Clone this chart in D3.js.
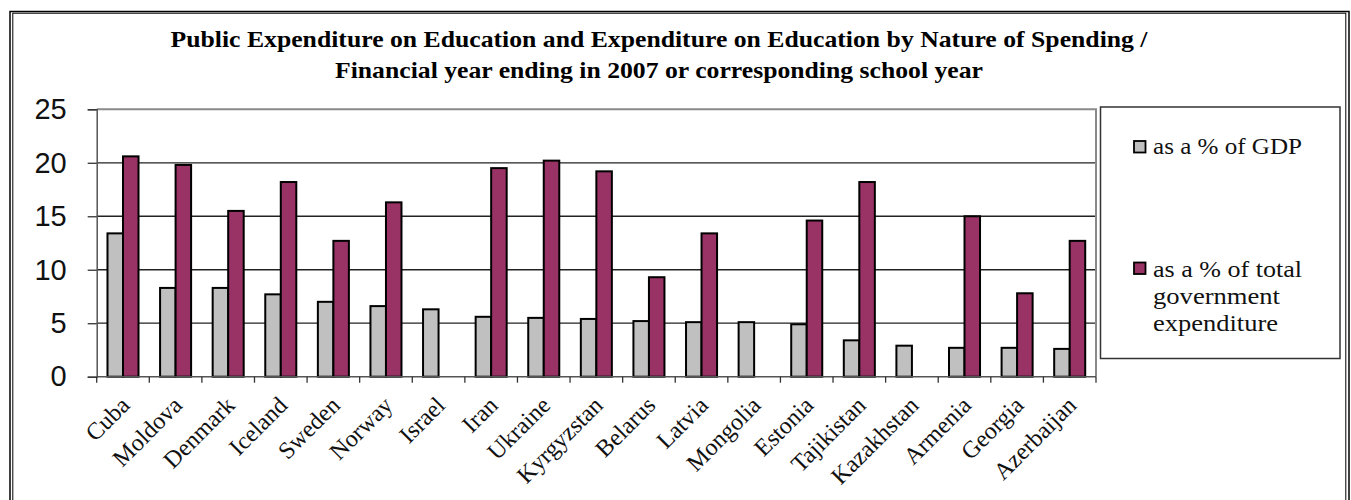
<!DOCTYPE html>
<html>
<head>
<meta charset="utf-8">
<script src="https://cdn.jsdelivr.net/npm/d3@7"></script>
<style>
  html, body { margin: 0; padding: 0; background: #fff; }
  svg { display: block; }
</style>
</head>
<body>
<svg id="chart" width="1351" height="500"></svg>
<script>
// Public expenditure on education, financial year ending 2007
const categories = ["Cuba", "Moldova", "Denmark", "Iceland", "Sweden", "Norway", "Israel",
  "Iran", "Ukraine", "Kyrgyzstan", "Belarus", "Latvia", "Mongolia", "Estonia",
  "Tajikistan", "Kazakhstan", "Armenia", "Georgia", "Azerbaijan"];
const seriesNames = ["as a % of GDP", "as a % of total government expenditure"];
const pctGDP = [13.4, 8.3, 8.3, 7.7, 7.0, 6.6, 6.3, 5.6, 5.5, 5.4, 5.2, 5.1, 5.1, 4.9, 3.4, 2.9, 2.7, 2.7, 2.6];
const pctGovExp = [20.6, 19.8, 15.5, 18.2, 12.7, 16.3, null, 19.5, 20.2, 19.2, 9.3, 13.4, null, 14.6, 18.2, null, 15.0, 7.8, 12.7];
const yTicks = [0, 5, 10, 15, 20, 25];
const titleLines = [
  "Public Expenditure on Education and Expenditure on Education by Nature of Spending /",
  "Financial year ending in 2007 or corresponding school year"
];
const legendLines = [["as a % of GDP"], ["as a % of total", "government", "expenditure"]];

const colors = ["#C0C0C0", "#993366"];
const serif = "'Liberation Serif', 'Times New Roman', Times, serif";
const svg = d3.select("#chart");

// outer frame (double rule on the left/top)
svg.append("rect").attr("x", 10).attr("y", 11.5).attr("width", 1339).attr("height", 600)
  .attr("fill", "none").attr("stroke", "#000").attr("stroke-width", 1.5);
svg.append("rect").attr("x", 12.8).attr("y", 13.2).attr("width", 1333).attr("height", 600)
  .attr("fill", "none").attr("stroke", "#000").attr("stroke-width", 1);

// title
const titleSpecs = [{ y: 47, w: 977 }, { y: 78, w: 648 }];
titleLines.forEach((t, i) => {
  svg.append("text")
    .attr("x", 659).attr("y", titleSpecs[i].y)
    .attr("text-anchor", "middle")
    .style("font-family", serif)
    .attr("font-weight", "bold")
    .attr("font-size", 23)
    .attr("textLength", titleSpecs[i].w)
    .attr("lengthAdjust", "spacingAndGlyphs")
    .text(t);
});

// plot area
const plot = { left: 96.7, right: 1096, top: 109.3, bottom: 376.7 };

const x0 = d3.scaleBand().domain(categories).range([plot.left, plot.right]).padding(0);
const groupW = x0.bandwidth() * 0.59;
const x1 = d3.scaleBand().domain([0, 1])
  .range([(x0.bandwidth() - groupW) / 2, (x0.bandwidth() + groupW) / 2]).padding(0);
const y = d3.scaleLinear().domain([0, 25]).range([plot.bottom, plot.top]);

// horizontal gridlines
svg.append("g").selectAll("line")
  .data(yTicks.filter(d => d > 0 && d < 25))
  .join("line")
  .attr("x1", plot.left).attr("x2", plot.right)
  .attr("y1", d => y(d)).attr("y2", d => y(d))
  .attr("stroke", "#222").attr("stroke-width", 1.3);

// plot border top / right
svg.append("path")
  .attr("d", `M${plot.left},${y(25)}H${plot.right}V${plot.bottom}`)
  .attr("fill", "none").attr("stroke", "#8a8a8a").attr("stroke-width", 2);

// bars
const rows = categories.map((c, i) => ({ c, v: [pctGDP[i], pctGovExp[i]] }));
const groups = svg.append("g").selectAll("g")
  .data(rows).join("g")
  .attr("transform", d => `translate(${x0(d.c)},0)`);
groups.selectAll("rect")
  .data(d => d.v.map((v, k) => ({ k, v })).filter(e => e.v != null))
  .join("rect")
  .attr("x", e => x1(e.k))
  .attr("width", x1.bandwidth())
  .attr("y", e => y(e.v))
  .attr("height", e => y(0) - y(e.v))
  .attr("fill", e => colors[e.k])
  .attr("stroke", "#000").attr("stroke-width", 2);

// y axis
const yAxis = d3.axisLeft(y).tickValues(yTicks).tickSize(9).tickPadding(21);
const gy = svg.append("g").attr("transform", `translate(${plot.left},0)`).call(yAxis);
gy.select(".domain").attr("stroke", "#555").attr("stroke-width", 1.5);
gy.selectAll(".tick line").attr("stroke", "#333").attr("stroke-width", 1.3);
gy.selectAll(".tick text")
  .style("font-family", "'Liberation Sans', Arial, sans-serif")
  .attr("font-size", 29).attr("fill", "#111");

// x axis with ticks at category boundaries
const gx = svg.append("g").attr("transform", `translate(0,${plot.bottom})`);
gx.append("line").attr("x1", plot.left).attr("x2", plot.right)
  .attr("stroke", "#555").attr("stroke-width", 1.5);
gx.selectAll("line.bt")
  .data(categories.map(c => x0(c)).concat([plot.right]))
  .join("line").attr("class", "bt")
  .attr("x1", d => d).attr("x2", d => d).attr("y1", 0).attr("y2", 6)
  .attr("stroke", "#333").attr("stroke-width", 1.3);
gx.selectAll("text")
  .data(categories).join("text")
  .attr("transform", d => `translate(${x0(d) + x0.bandwidth() / 2 + 8},${30}) rotate(-45)`)
  .attr("text-anchor", "end")
  .style("font-family", serif)
  .attr("font-size", 24).attr("fill", "#111")
  .text(d => d);

// legend
const lg = svg.append("g");
lg.append("rect").attr("x", 1100.5).attr("y", 107).attr("width", 239.5).attr("height", 251.5)
  .attr("fill", "#fff").attr("stroke", "#333").attr("stroke-width", 1.5);
const legendSpecs = [
  { sy: 141, lines: [{ y: 153.5, w: 149 }] },
  { sy: 262.5, lines: [{ y: 276.5, w: 149 }, { y: 303.5, w: 127 }, { y: 330.5, w: 125 }] }
];
legendLines.forEach((lines, k) => {
  lg.append("rect").attr("x", 1134).attr("y", legendSpecs[k].sy).attr("width", 11.5).attr("height", 11.5)
    .attr("fill", colors[k]).attr("stroke", "#000").attr("stroke-width", 1.8);
  lines.forEach((t, j) => {
    lg.append("text")
      .attr("x", 1153).attr("y", legendSpecs[k].lines[j].y)
      .style("font-family", serif)
      .attr("font-size", 24).attr("fill", "#111")
      .attr("textLength", legendSpecs[k].lines[j].w)
      .attr("lengthAdjust", "spacingAndGlyphs")
      .text(t);
  });
});
</script>
</body>
</html>
